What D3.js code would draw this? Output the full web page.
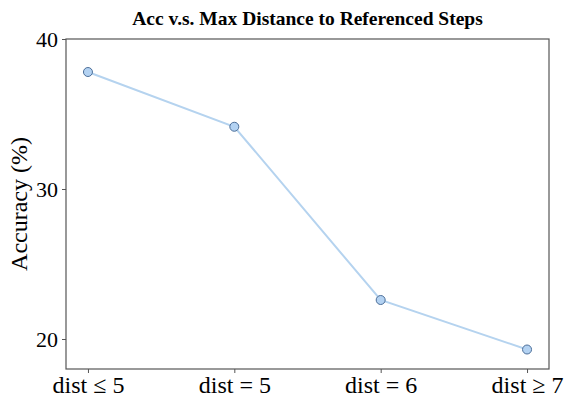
<!DOCTYPE html>
<html><head><meta charset="utf-8">
<script src="https://cdn.jsdelivr.net/npm/d3@7"></script>
<style>body{margin:0;background:#fff}svg{display:block}</style>
</head><body>
<svg id="c" width="564" height="401"></svg>
<script>
const categories = ["dist \u2264 5", "dist = 5", "dist = 6", "dist \u2265 7"];
const accuracy = [37.8, 34.15, 22.6, 19.3];
const yTicks = [20, 30, 40];
const title = "Acc v.s. Max Distance to Referenced Steps";
const yLabel = "Accuracy (%)";

const svg = d3.select("#c");
const m = {l: 66, r: 549, t: 39, b: 369};
const x = d3.scaleLinear().domain([-0.15, categories.length - 1 + 0.15]).range([m.l, m.r]);
const y = d3.scaleLinear().domain([18, 40]).range([m.b, m.t]);
const font = "'Liberation Serif','Times New Roman',serif";
const axisColor = "#555";

const xAxis = d3.axisBottom(x).tickValues(d3.range(categories.length)).tickFormat(i => categories[i]).tickSize(4).tickPadding(4);
const gx = svg.append("g").attr("transform", `translate(0,${m.b})`).call(xAxis);
const yAxis = d3.axisLeft(y).tickValues(yTicks).tickSize(4).tickPadding(4);
const gy = svg.append("g").attr("transform", `translate(${m.l},0)`).call(yAxis);
[gx, gy].forEach(g => {
  g.select(".domain").remove();
  g.selectAll(".tick line").attr("stroke", axisColor).attr("stroke-width", 1);
  g.selectAll(".tick text").attr("fill", "#000").style("font-family", font);
});
gx.selectAll(".tick text").attr("y", 24).attr("dy", 0).style("font-size", "24px");
gy.selectAll(".tick text").attr("dy", "0.35em").style("font-size", "22px");

svg.append("rect").attr("x", m.l).attr("y", m.t).attr("width", m.r - m.l).attr("height", m.b - m.t)
  .attr("fill", "none").attr("stroke", axisColor).attr("stroke-width", 1.2);

const line = d3.line().x((d, i) => x(i)).y(d => y(d));
svg.append("path").datum(accuracy).attr("d", line).attr("fill", "none")
  .attr("stroke", "#b5d3ef").attr("stroke-width", 2);
svg.selectAll("circle.pt").data(accuracy).enter().append("circle").attr("class", "pt")
  .attr("cx", (d, i) => x(i)).attr("cy", d => y(d)).attr("r", 4.5)
  .attr("fill", "#b3d2f2").attr("stroke", "#4d6f99").attr("stroke-width", 1);

svg.append("text").attr("x", (m.l + m.r) / 2).attr("y", 25).attr("text-anchor", "middle")
  .style("font-family", font).style("font-size", "19.5px").style("font-weight", "bold").text(title);
svg.append("text").attr("transform", `translate(27,${(m.t + m.b) / 2}) rotate(-90)`).attr("text-anchor", "middle")
  .style("font-family", font).style("font-size", "24px").text(yLabel);
</script>
</body></html>
